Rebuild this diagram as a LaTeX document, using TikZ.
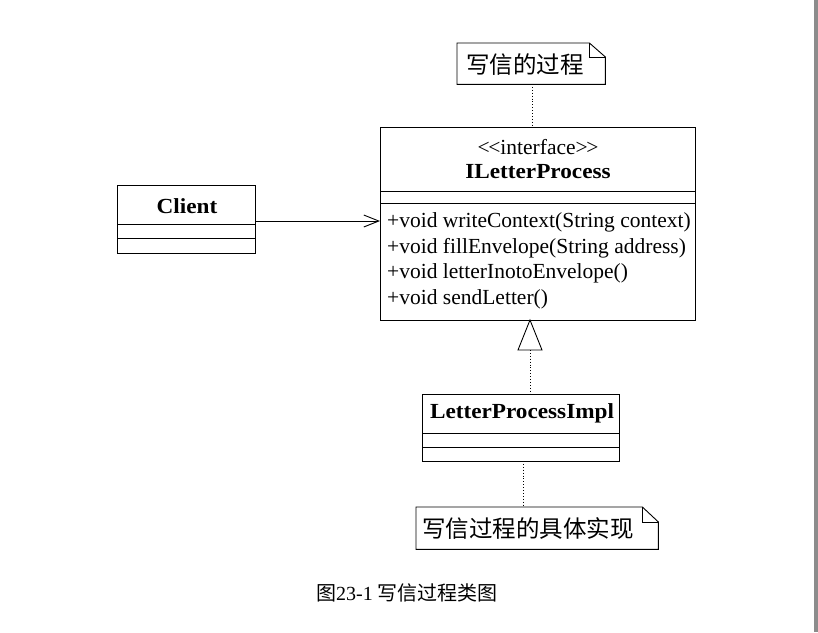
\documentclass[tikz,border=0pt]{standalone}
\usepackage{fontspec}
\usepackage{graphicx}
\setmainfont{Liberation Serif}
\newfontfamily\cjk{Noto Sans CJK SC}
\usetikzlibrary{arrows.meta}
\newcommand{\wide}[1]{\scalebox{1.08}[1]{#1}}
\tikzset{
  box/.style={draw, line width=0.9pt, anchor=north west, inner sep=0pt},
  sep/.style={line width=0.9pt},
  txt/.style={inner sep=0pt, font=\fontsize{21.5}{24}\selectfont},
  bold/.style={inner sep=0pt, font=\fontsize{21.5}{24}\selectfont\bfseries},
  meth/.style={inner sep=0pt, anchor=west, font=\fontsize{21.5}{24}\selectfont},
  notetxt/.style={inner sep=0pt, font=\fontsize{23.5}{26}\selectfont\cjk},
  noteline/.style={line width=0.9pt},
  dots/.style={line width=0.9pt, dotted},
}
\begin{document}
\begin{tikzpicture}[x=1pt,y=-1pt]
\useasboundingbox (0,0) rectangle (818,632);
\fill[white] (0,0) rectangle (818,632);
\fill[black!45] (814,0) rectangle (818,632);

% Note 1
\node[inner sep=0pt, minimum width=148pt, minimum height=41pt, anchor=north west] (n1) at (457,43) {};
\draw[noteline] (n1.north west) -- ([xshift=-16pt]n1.north east) -- ([yshift=-14pt]n1.north east) -- (n1.south east) -- (n1.south west) -- cycle;
\draw[noteline] ([xshift=-16pt]n1.north east) -- ([xshift=-16pt,yshift=-14pt]n1.north east) -- ([yshift=-14pt]n1.north east);
\node[notetxt] (n1t) at (525,65) {写信的过程};

% Interface box
\node[box, minimum width=315pt, minimum height=193pt] (iface) at (380,127) {};
\draw[sep] (380,191) -- (695,191);
\draw[sep] (380,203) -- (695,203);
\node[txt] (st) at (538,147) {<\kern-1.5pt<interface>\kern-1.5pt>};
\node[bold] (iname) at (538,172) {\wide{ILetterProcess}};
\node[meth] (m1) at (387,222) {+void writeContext(String context)};
\node[meth] (m2) at (387,248) {+void fillEnvelope(String address)};
\node[meth] (m3) at (387,273) {+void letterInotoEnvelope()};
\node[meth] (m4) at (387,299) {+void sendLetter()};

% Client
\node[box, minimum width=138pt, minimum height=68pt] (client) at (117,185) {};
\draw[sep] (117,224) -- (255,224);
\draw[sep] (117,238) -- (255,238);
\node[bold] (cname) at (187,206) {\wide{Client}};

% Impl
\node[box, minimum width=197pt, minimum height=67pt] (impl) at (422,394) {};
\draw[sep] (422,433) -- (619,433);
\draw[sep] (422,447) -- (619,447);
\node[bold] (impname) at (522,413) {\wide{LetterProcessImpl}};

% Note 2
\node[inner sep=0pt, minimum width=242pt, minimum height=42pt, anchor=north west] (n2) at (416,507) {};
\draw[noteline] (n2.north west) -- ([xshift=-16pt]n2.north east) -- ([yshift=-15pt]n2.north east) -- (n2.south east) -- (n2.south west) -- cycle;
\draw[noteline] ([xshift=-16pt]n2.north east) -- ([xshift=-16pt,yshift=-15pt]n2.north east) -- ([yshift=-15pt]n2.north east);
\node[notetxt] (n2t) at (528,529) {写信过程的具体实现};

% Connectors
\coordinate (cA) at (255,221);
\coordinate (cB) at (380,221);
\draw[line width=0.9pt, -{Straight Barb[length=15pt,width=12pt]}] (cA) -- (cB);

\coordinate (tip) at (530,320);
\coordinate (tbase) at (530,350);
\draw[line width=0.9pt, fill=white] (tip) -- (542,350) -- (518,350) -- cycle;
\draw[dots] (tbase) -- (impl.north -| tbase);

\coordinate (n1b) at (532,84);
\draw[dots] (n1b) -- (iface.north -| n1b);
\coordinate (impb) at (523,461);
\draw[dots] (impb) -- (n2.north -| impb);

% Caption
\node[inner sep=0pt, font=\fontsize{20}{24}\selectfont] (cap) at (407,593) {{\cjk 图}23-1 {\cjk 写信过程类图}};
\end{tikzpicture}
\end{document}
